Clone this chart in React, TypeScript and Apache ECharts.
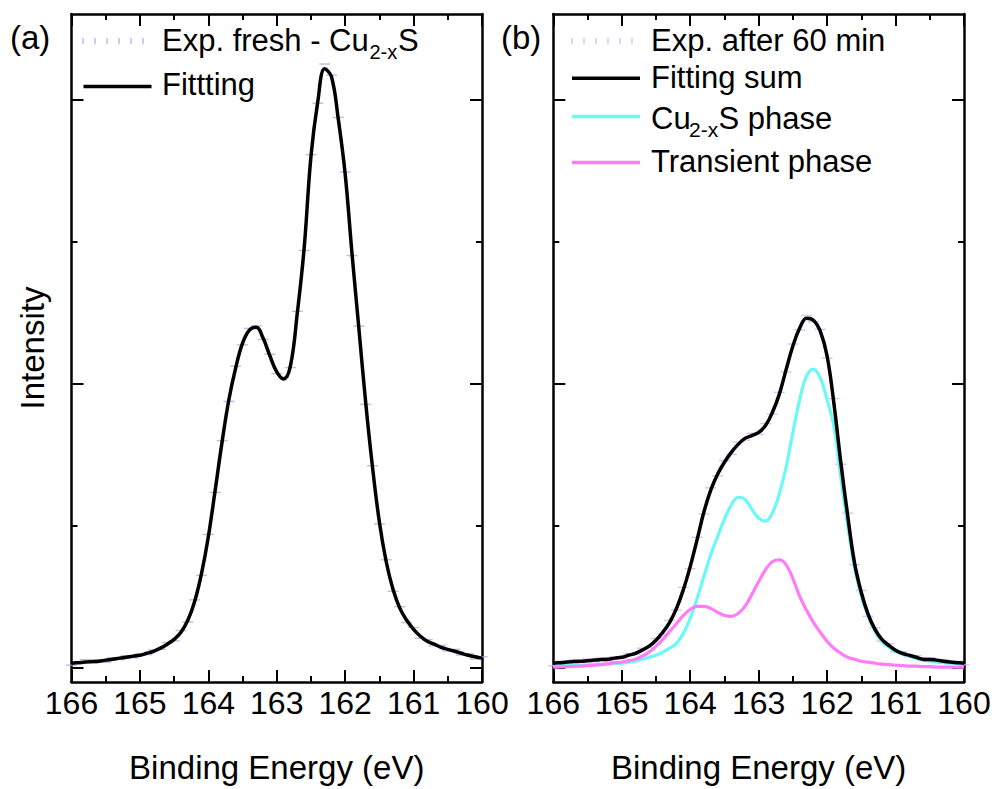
import React, { useEffect, useRef } from "react";
import * as echarts from "echarts";

// Binding energy grid (eV), shared by all curves
const energies = [
  166.0, 165.9, 165.8, 165.7, 165.6, 165.5, 165.4, 165.3, 165.2, 165.1, 165.0,
  164.9, 164.8, 164.7, 164.6, 164.5, 164.4, 164.3, 164.2, 164.1, 164.0,
  163.9, 163.8, 163.7, 163.6, 163.5, 163.4, 163.3, 163.2, 163.1, 163.0,
  162.9, 162.8, 162.7, 162.6, 162.5, 162.4, 162.3, 162.2, 162.1, 162.0,
  161.9, 161.8, 161.7, 161.6, 161.5, 161.4, 161.3, 161.2, 161.1, 161.0,
  160.9, 160.8, 160.7, 160.6, 160.5, 160.4, 160.3, 160.2, 160.1, 160.0,
];

// Panel (a): fresh Cu2-xS
const expFresh = [
  0.010, 0.022, 0.030, 0.018, 0.028, 0.020, 0.036, 0.030, 0.044, 0.036, 0.050,
  0.047, 0.064, 0.066, 0.090, 0.096, 0.132, 0.162, 0.240, 0.326, 0.470,
  0.618, 0.800, 0.938, 1.062, 1.137, 1.195, 1.204, 1.156, 1.104, 1.036,
  1.022, 1.057, 1.255, 1.469, 1.806, 1.987, 2.125, 2.086, 1.937, 1.745,
  1.451, 1.203, 0.928, 0.712, 0.507, 0.381, 0.270, 0.216, 0.160, 0.143,
  0.105, 0.100, 0.078, 0.080, 0.060, 0.066, 0.046, 0.050, 0.032, 0.040,
];
const fitFresh = [
  0.017, 0.019, 0.021, 0.023, 0.024, 0.028, 0.031, 0.035, 0.038, 0.042, 0.045,
  0.052, 0.059, 0.070, 0.084, 0.101, 0.126, 0.168, 0.234, 0.332, 0.462,
  0.626, 0.794, 0.944, 1.056, 1.143, 1.189, 1.199, 1.161, 1.098, 1.042,
  1.017, 1.063, 1.248, 1.476, 1.800, 1.993, 2.108, 2.080, 1.930, 1.738,
  1.458, 1.196, 0.934, 0.706, 0.514, 0.374, 0.276, 0.210, 0.168, 0.136,
  0.112, 0.094, 0.084, 0.073, 0.066, 0.059, 0.052, 0.045, 0.040, 0.035,
];

// Panel (b): after 60 min
const exp60 = [
  0.008, 0.024, 0.014, 0.030, 0.020, 0.032, 0.022, 0.036, 0.026, 0.040, 0.034,
  0.050, 0.048, 0.070, 0.072, 0.104, 0.120, 0.168, 0.204, 0.284, 0.350,
  0.460, 0.542, 0.634, 0.676, 0.730, 0.752, 0.795, 0.802, 0.826, 0.822,
  0.860, 0.893, 0.970, 1.042, 1.140, 1.190, 1.240, 1.218, 1.192, 1.090,
  0.948, 0.717, 0.545, 0.364, 0.273, 0.182, 0.142, 0.095, 0.086, 0.057,
  0.058, 0.040, 0.044, 0.026, 0.036, 0.022, 0.030, 0.016, 0.024, 0.012,
];
const fitSum = [
  0.017, 0.019, 0.021, 0.023, 0.024, 0.026, 0.028, 0.030, 0.031, 0.035, 0.038,
  0.045, 0.052, 0.063, 0.077, 0.098, 0.126, 0.161, 0.210, 0.276, 0.357,
  0.451, 0.549, 0.626, 0.682, 0.724, 0.759, 0.787, 0.808, 0.818, 0.829,
  0.853, 0.899, 0.962, 1.049, 1.133, 1.196, 1.231, 1.224, 1.185, 1.098,
  0.930, 0.724, 0.538, 0.371, 0.266, 0.189, 0.136, 0.101, 0.080, 0.063,
  0.052, 0.045, 0.038, 0.031, 0.030, 0.028, 0.024, 0.021, 0.019, 0.017,
];
const cuPhase = [
  0.007, 0.008, 0.009, 0.010, 0.010, 0.011, 0.012, 0.013, 0.014, 0.016, 0.017,
  0.021, 0.024, 0.031, 0.038, 0.045, 0.056, 0.070, 0.087, 0.122, 0.175,
  0.245, 0.322, 0.399, 0.462, 0.524, 0.573, 0.601, 0.594, 0.559, 0.528,
  0.517, 0.545, 0.612, 0.706, 0.829, 0.944, 1.028, 1.052, 1.021, 0.944,
  0.850, 0.671, 0.503, 0.357, 0.252, 0.182, 0.129, 0.094, 0.073, 0.059,
  0.049, 0.042, 0.035, 0.028, 0.024, 0.021, 0.019, 0.017, 0.016, 0.014,
];
const transientPhase = [
  0.003, 0.004, 0.005, 0.006, 0.007, 0.009, 0.010, 0.012, 0.016, 0.019, 0.021,
  0.026, 0.031, 0.042, 0.056, 0.077, 0.101, 0.129, 0.157, 0.185, 0.206,
  0.217, 0.217, 0.210, 0.196, 0.185, 0.182, 0.192, 0.217, 0.259, 0.304,
  0.346, 0.374, 0.381, 0.364, 0.315, 0.252, 0.203, 0.161, 0.126, 0.094,
  0.070, 0.052, 0.038, 0.031, 0.024, 0.021, 0.017, 0.014, 0.012, 0.010,
  0.009, 0.007, 0.007, 0.005, 0.005, 0.003, 0.003, 0.003, 0.003, 0.003,
];

const xTicksMin = 160;
const xTicksMax = 166;
const yMajorTicks = [0, 1, 2];
const yMinorTicks = [0.5, 1.5];
const Y_MIN = -0.049;
const Y_MAX = 2.301;

const FONT = "'Liberation Sans', Arial, Helvetica, sans-serif";
const EXP_A = "#a9abe4";
const EXP_B = "#d2b2f4";
const CYAN = "#6cf8f8";
const MAGENTA = "#ff7cf8";

const pairs = (ys: number[]) => energies.map((e, i) => [e, ys[i]]);

function xAxesFor(gridIndex: number, withName: boolean) {
  const common = {
    type: "value",
    gridIndex,
    min: xTicksMin,
    max: xTicksMax,
    interval: 1,
    inverse: true,
    splitLine: { show: false },
    axisLine: { show: true, onZero: false, lineStyle: { color: "#000", width: 2.5 } },
    axisTick: { show: true, inside: true, length: 12, lineStyle: { color: "#000", width: 2 } },
    minorTick: { show: true, splitNumber: 2, length: 6, lineStyle: { color: "#000", width: 2 } },
  };
  return [
    {
      ...common,
      position: "bottom",
      axisLabel: { show: true, color: "#000", fontSize: 32, fontFamily: FONT, margin: 5 },
      name: withName ? "Binding Energy (eV)" : "",
      nameLocation: "middle",
      nameGap: 69,
      nameTextStyle: { color: "#000", fontSize: 33, fontFamily: FONT },
    },
    { ...common, position: "top", axisLabel: { show: false } },
  ];
}

function yAxesFor(gridIndex: number, withName: boolean) {
  const base = {
    type: "value",
    gridIndex,
    min: Y_MIN,
    max: Y_MAX,
    splitLine: { show: false },
    axisLabel: { show: false },
  };
  const major = {
    show: true,
    inside: true,
    length: 12,
    customValues: yMajorTicks,
    lineStyle: { color: "#000", width: 2 },
  };
  const minor = { ...major, length: 6, customValues: yMinorTicks };
  const line = { show: true, onZero: false, lineStyle: { color: "#000", width: 2.5 } };
  return [
    {
      ...base,
      position: "left",
      axisLine: line,
      axisTick: major,
      name: withName ? "Intensity" : "",
      nameLocation: "middle",
      nameGap: 23,
      nameTextStyle: { color: "#000", fontSize: 33, fontFamily: FONT },
    },
    { ...base, position: "left", axisLine: { show: false }, axisTick: minor },
    { ...base, position: "right", axisLine: line, axisTick: major },
    { ...base, position: "right", axisLine: { show: false }, axisTick: minor },
  ];
}

function lineSeries(name: string, ys: number[], color: string, width: number, xi: number, yi: number, z: number) {
  return {
    name,
    type: "line",
    xAxisIndex: xi,
    yAxisIndex: yi,
    data: pairs(ys),
    smooth: 0.4,
    showSymbol: false,
    symbol: "none",
    lineStyle: { color, width },
    z,
  };
}

function expSeries(name: string, ys: number[], color: string, xi: number, yi: number) {
  return {
    name,
    type: "scatter",
    xAxisIndex: xi,
    yAxisIndex: yi,
    data: pairs(ys),
    symbol: "rect",
    symbolSize: [11, 1.4],
    itemStyle: { color },
    z: 1,
  };
}

function txt(x: number, y: number, text: string, size: number) {
  return {
    type: "text",
    x,
    y,
    style: { text, fill: "#000", fontSize: size, fontFamily: FONT, verticalAlign: "middle", align: "left" },
    z: 20,
  };
}

function legLine(x1: number, x2: number, y: number, color: string) {
  return {
    type: "line",
    shape: { x1, y1: y, x2, y2: y },
    style: { stroke: color, lineWidth: 3.5 },
    z: 20,
  };
}

function dashSymbol(x0: number, y: number, color: string) {
  const out: any[] = [];
  for (let k = 0; k < 6; k++) {
    out.push({
      type: "line",
      shape: { x1: x0 + k * 12, y1: y - 3, x2: x0 + k * 12, y2: y + 3 },
      style: { stroke: color, lineWidth: 1.2 },
      z: 20,
    });
  }
  return out;
}

export default function App() {
  const ref = useRef<HTMLDivElement>(null);
  useEffect(() => {
    if (!ref.current) return;
    const chart = echarts.init(ref.current, undefined, { renderer: "svg" });
    const option: any = {
      animation: false,
      backgroundColor: "#fff",
      grid: [
        { left: 71.5, top: 14, width: 410.5, height: 672, show: false },
        { left: 553.3, top: 14, width: 410.7, height: 672, show: false },
      ],
      xAxis: [...xAxesFor(0, true), ...xAxesFor(1, true)],
      yAxis: [...yAxesFor(0, true), ...yAxesFor(1, false)],
      series: [
        expSeries("Exp. fresh - Cu2-xS", expFresh, EXP_A, 0, 0),
        lineSeries("Fittting", fitFresh, "#000", 3.5, 0, 0, 5),
        expSeries("Exp. after 60 min", exp60, EXP_B, 2, 4),
        lineSeries("Cu2-xS phase", cuPhase, CYAN, 3.2, 2, 4, 3),
        lineSeries("Transient phase", transientPhase, MAGENTA, 3.2, 2, 4, 4),
        lineSeries("Fitting sum", fitSum, "#000", 3.5, 2, 4, 5),
      ],
      graphic: [
        txt(10, 37, "(a)", 33),
        txt(501, 37, "(b)", 33),
        // legend (a)
        ...dashSymbol(83, 41, EXP_A),
        txt(162, 40, "Exp. fresh - Cu", 31),
        txt(369.5, 52, "2-x", 20),
        txt(398, 40, "S", 31),
        legLine(83.5, 151.5, 86.5, "#000"),
        txt(162, 84, "Fittting", 31),
        // legend (b)
        ...dashSymbol(572, 41, EXP_B),
        txt(651, 40, "Exp. after 60 min", 31),
        legLine(572, 640, 78.3, "#000"),
        txt(651, 77.5, "Fitting sum", 31),
        legLine(572, 640, 116.5, CYAN),
        txt(651, 118, "Cu", 31),
        txt(689, 129, "2-x", 21),
        txt(718.5, 118, "S phase", 31),
        legLine(572, 640, 162.5, MAGENTA),
        txt(651, 161.7, "Transient phase", 31),
      ],
    };
    chart.setOption(option);
    return () => chart.dispose();
  }, []);
  return (
    <div
      ref={ref}
      style={{ position: "absolute", left: 0, top: 0, width: 994, height: 789, background: "#fff" }}
    />
  );
}
